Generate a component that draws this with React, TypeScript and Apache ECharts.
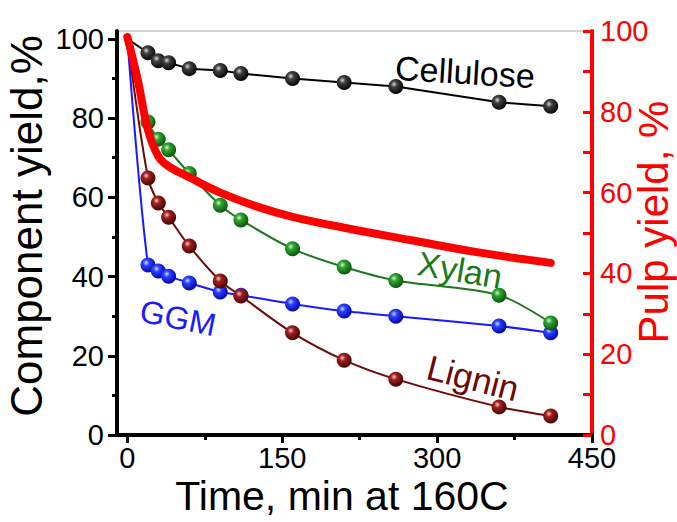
import React, { useEffect, useRef } from "react";
import * as echarts from "echarts";

const times = [0, 20, 30, 40, 60, 90, 110, 160, 210, 260, 360, 410];
const cellulose = [100, 96.5, 94.5, 94, 92.5, 92, 91.3, 90, 89, 88, 84, 83];
const xylan = [100, 79, 74.7, 72, 66, 58, 54.3, 47, 42.4, 39, 35.3, 28.3];
const ggm = [100, 42.9, 41.4, 40.1, 38.4, 36.1, 35.3, 33.1, 31.3, 30, 27.5, 25.8];
const lignin = [100, 64.9, 58.6, 55, 47.7, 38.9, 35.1, 25.8, 18.9, 14.1, 7.1, 4.8];

// Pulp yield curve (no markers)
const pulpTimes = [0, 10, 20, 30, 40, 60, 90, 125, 160, 210, 275, 340, 410];
const pulp = [98.5, 88, 75.5, 69, 66.5, 63.8, 60, 56.6, 54, 51.3, 48.2, 45.2, 42.6];

const xMajor = [0, 150, 300, 450];
const xMinor = [75, 225, 375];
const yLeftMajor = [0, 20, 40, 60, 80, 100];
const yLeftMinor = [10, 30, 50, 70, 90];
const yRightLabels = [0, 20, 40, 60, 80, 100];
const yRightTicks = [0, 10, 20, 30, 40, 50, 60, 70, 80, 90, 100];

const FONT = "'Liberation Sans', Arial, Helvetica, sans-serif";

function ball(light: string, mid: string, dark: string) {
  return {
    type: "radial",
    x: 0.38,
    y: 0.35,
    r: 0.7,
    colorStops: [
      { offset: 0, color: light },
      { offset: 0.3, color: mid },
      { offset: 1, color: dark },
    ],
  };
}

function pts(vals: number[], hideFirst: boolean) {
  return times.map((t, i) =>
    hideFirst && i === 0 ? { value: [t, vals[i]], symbol: "none" } : { value: [t, vals[i]] }
  );
}

export default function App() {
  const ref = useRef<HTMLDivElement>(null);
  useEffect(() => {
    if (!ref.current) return;
    const chart = echarts.init(ref.current, null, { renderer: "svg" });
    const compSeries = (
      name: string,
      vals: number[],
      lineColor: string,
      grad: any,
      smooth: number | boolean
    ) => ({
      name,
      type: "line",
      xAxisIndex: 0,
      yAxisIndex: 0,
      data: pts(vals, true),
      smooth,
      symbol: "circle",
      symbolSize: 15,
      lineStyle: { color: lineColor, width: 2 },
      itemStyle: { color: grad },
      z: 3,
    });
    const option: any = {
      animation: false,
      grid: {
        left: 117,
        right: 85,
        top: 31,
        bottom: 87,
        show: true,
        borderColor: "#a8a8a8",
        borderWidth: 1,
        backgroundColor: "transparent",
      },
      xAxis: [
        {
          type: "value",
          min: -10,
          max: 450,
          position: "bottom",
          axisLine: { show: true, onZero: false, lineStyle: { color: "#000", width: 4 } },
          axisTick: { show: true, customValues: xMajor, length: 8, lineStyle: { color: "#000", width: 3 } },
          axisLabel: { customValues: xMajor, fontSize: 29, color: "#000", fontFamily: FONT, margin: 8 },
          splitLine: { show: false },
        },
        {
          type: "value",
          min: -10,
          max: 450,
          position: "bottom",
          axisLine: { show: false, onZero: false },
          axisTick: { show: true, customValues: xMinor, length: 5, lineStyle: { color: "#000", width: 3 } },
          axisLabel: { show: false },
          splitLine: { show: false },
        },
      ],
      yAxis: [
        {
          type: "value",
          min: 0,
          max: 102,
          position: "left",
          axisLine: { show: true, onZero: false, lineStyle: { color: "#000", width: 4 } },
          axisTick: { show: true, customValues: yLeftMajor, length: 9, lineStyle: { color: "#000", width: 3 } },
          axisLabel: { customValues: yLeftMajor, fontSize: 29, color: "#000", fontFamily: FONT, margin: 13 },
          splitLine: { show: false },
        },
        {
          type: "value",
          min: 0,
          max: 102,
          position: "left",
          axisLine: { show: false, onZero: false },
          axisTick: { show: true, customValues: yLeftMinor, length: 5, lineStyle: { color: "#000", width: 3 } },
          axisLabel: { show: false },
          splitLine: { show: false },
        },
        {
          type: "value",
          min: 0,
          max: 100,
          position: "right",
          axisLine: { show: true, onZero: false, lineStyle: { color: "#ff0000", width: 4 } },
          axisTick: {
            show: true,
            inside: true,
            customValues: yRightTicks,
            length: 9,
            lineStyle: { color: "#ff0000", width: 3 },
          },
          axisLabel: { customValues: yRightLabels, fontSize: 29, color: "#ff0000", fontFamily: FONT, margin: 8 },
          splitLine: { show: false },
        },
      ],
      series: [
        compSeries("Cellulose", cellulose, "#000000", ball("#d8d8d8", "#404040", "#000000"), false),
        compSeries("GGM", ggm, "#1a1aff", ball("#d0d8ff", "#2a40ff", "#0000a0"), 0.25),
        compSeries("Lignin", lignin, "#6e0808", ball("#f2c8c8", "#a02020", "#400000"), 0.3),
        compSeries("Xylan", xylan, "#1a7a1a", ball("#d0f2d0", "#2ea52e", "#0a4a0a"), 0.3),
        {
          name: "Pulp yield",
          type: "line",
          xAxisIndex: 0,
          yAxisIndex: 2,
          data: pulpTimes.map((t, i) => [t, pulp[i]]),
          smooth: 0.4,
          symbol: "none",
          lineStyle: { color: "#ff0000", width: 8, cap: "round", join: "round" },
          z: 4,
        },
      ],
      graphic: [
        {
          type: "text",
          x: 26,
          y: 226,
          rotation: Math.PI / 2,
          style: { text: "Component yield,%", fontSize: 44, fontFamily: FONT, fill: "#000", align: "center", verticalAlign: "middle" },
        },
        {
          type: "text",
          x: 653,
          y: 222,
          rotation: Math.PI / 2,
          style: { text: "Pulp yield, %", fontSize: 42, fontFamily: FONT, fill: "#ff0000", align: "center", verticalAlign: "middle" },
        },
        {
          type: "text",
          x: 342,
          y: 496,
          style: { text: "Time, min at 160C", fontSize: 41, fontFamily: FONT, fill: "#000", align: "center", verticalAlign: "middle" },
        },
        {
          type: "text",
          x: 465,
          y: 72,
          rotation: -0.06,
          z: 10,
          style: { text: "Cellulose", fontSize: 34, fontFamily: FONT, fill: "#000", align: "center", verticalAlign: "middle" },
        },
        {
          type: "text",
          x: 460,
          y: 270,
          rotation: -0.17,
          z: 10,
          style: { text: "Xylan", fontSize: 34, fontFamily: FONT, fill: "#1a7a1a", align: "center", verticalAlign: "middle" },
        },
        {
          type: "text",
          x: 178,
          y: 318,
          rotation: -0.2,
          z: 10,
          style: { text: "GGM", fontSize: 32, fontFamily: FONT, fill: "#1a1aff", align: "center", verticalAlign: "middle" },
        },
        {
          type: "text",
          x: 473,
          y: 378,
          rotation: -0.25,
          z: 10,
          style: { text: "Lignin", fontSize: 35, fontFamily: FONT, fill: "#6e0808", align: "center", verticalAlign: "middle" },
        },
      ],
    };
    chart.setOption(option);
    return () => chart.dispose();
  }, []);
  return (
    <div
      ref={ref}
      style={{ position: "absolute", left: 0, top: 0, width: 677, height: 522, background: "#fff" }}
    />
  );
}
